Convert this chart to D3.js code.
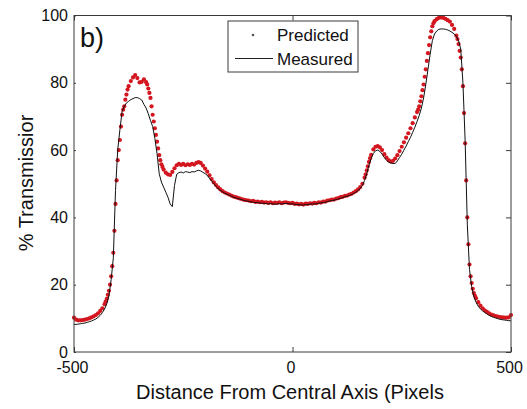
<!DOCTYPE html>
<html>
<head>
<meta charset="utf-8">
<script src="https://cdn.jsdelivr.net/npm/d3@7"></script>
<style>
  body { margin: 0; background: #fff; }
  svg { display: block; }
  text { font-family: "Liberation Sans", Arial, Helvetica, sans-serif; fill: #111; }
</style>
</head>
<body>
<svg id="chart" width="527" height="409"></svg>
<script>
// Sample positions along the profile (pixels from the central axis)
const positions = d3.range(-500, 501, 5);

// Measured transmission (%) at each position
const measured = [
  8.2, 8.2, 8.3, 8.4, 8.5, 8.6, 8.8, 9.0, 9.2, 9.5,
  9.8, 10.3, 10.9, 11.7, 12.8, 14.3, 16.8, 21.5, 28, 48,
  60, 66, 71.5, 73, 74, 74.5, 75, 75.3, 75.6, 75.6,
  75.3, 74.9, 73.6, 72.5, 70.8, 68.8, 67, 63.5, 59, 53,
  50.5, 49, 47.5, 46, 44, 43.2, 49.5, 52.8, 53.3, 53.5,
  53.2, 53.6, 53.5, 53.3, 53.6, 53.5, 53.8, 54, 53.8, 53.4,
  53, 52.5, 51.6, 50.8, 50, 49.2, 48.5, 48, 47.6, 47.2,
  46.9, 46.6, 46.3, 46, 45.8, 45.6, 45.4, 45.2, 45, 44.9,
  44.8, 44.6, 44.5, 44.4, 44.4, 44.3, 44.2, 44.2, 44.1, 44.0,
  44.1, 44.0, 43.9, 44.0, 44.1, 44.0, 44.1, 44.2, 44.1, 44.0,
  44.0, 43.9, 43.8, 43.8, 43.7, 43.7, 43.8, 43.8, 43.9, 44.0,
  44.0, 44.1, 44.2, 44.3, 44.4, 44.5, 44.7, 44.9, 45.0, 45.1,
  45.3, 45.5, 45.7, 45.9, 46.1, 46.3, 46.5, 46.8, 47.1, 47.5,
  48, 48.6, 49.5, 51, 53, 55.5, 57.5, 59, 59.8, 60,
  59.6, 58.8, 57.8, 57, 56.4, 56.2, 56, 56, 56.8, 57.8,
  58.8, 60, 61.2, 62.5, 63.8, 65.3, 66.8, 68.5, 70.3, 72.5,
  75.5, 79.5, 84, 88.5, 92.5, 94.5, 95.4, 95.9, 96, 96,
  95.9, 95.7, 95.4, 95, 94.5, 93.8, 92.5, 90, 80, 63,
  38, 24.5, 19.4, 16.5, 14.8, 13.6, 12.8, 12.2, 11.7, 11.3,
  10.9, 10.6, 10.3, 10.1, 9.9, 9.7, 9.6, 9.5, 9.4, 9.3,
  9.3
];

// Predicted transmission (%) at each position
const predicted = [
  10.2, 9.6, 9.4, 9.4, 9.5, 9.6, 9.8, 10.0, 10.3, 10.6,
  11.0, 11.5, 12.2, 13.0, 14.2, 15.8, 18.2, 22.5, 29.5, 44,
  57, 63, 70.5, 73, 76.5, 79, 80.5, 81.6, 82.3, 81.4,
  80.1, 80.3, 81, 80.2, 78.3, 75.5, 70.5, 66.5, 62.5, 58.5,
  55.8, 54.2, 53.3, 52.8, 52.6, 53.5, 54.6, 55.5, 55.9, 55.6,
  55.9, 55.5, 55.8, 55.6, 55.9, 55.7, 56.2, 56.4, 56.2, 55.4,
  54.5, 53.6, 52.5, 51.4, 50.4, 49.6, 48.9, 48.3, 47.8, 47.4,
  47.1, 46.8, 46.5, 46.2, 46.0, 45.8, 45.6, 45.4, 45.2, 45.1,
  45.0, 44.8, 44.9, 44.6, 44.7, 44.5, 44.6, 44.4, 44.5, 44.3,
  44.5, 44.2, 44.4, 44.3, 44.5, 44.2, 44.4, 44.5, 44.3, 44.2,
  44.3, 44.0, 44.1, 43.9, 44.0, 43.8, 44.1, 44.0, 44.2, 44.1,
  44.3, 44.2, 44.5, 44.4, 44.7, 44.7, 45.0, 45.1, 45.3, 45.3,
  45.6, 45.7, 46.0, 46.1, 46.4, 46.5, 46.8, 47.0, 47.4, 47.8,
  48.3, 49.0, 50, 51.8, 54, 56.5, 58.6, 60.2, 61, 61.2,
  60.8, 60, 58.8, 57.8, 57, 56.6, 56.8, 57.5, 58.5, 59.7,
  61, 62.3, 63.7, 65, 66.5, 68, 69.7, 71.3, 73, 76,
  79.5, 84, 88.8, 93.5, 96.8, 98.3, 98.9, 99.3, 99.4, 99.3,
  99.0, 98.6, 98.2, 97.2, 96, 94, 91.5, 87.5, 79, 62,
  40, 26, 20.5, 17.5, 16, 14.8, 13.8, 13.0, 12.4, 11.9,
  11.5, 11.1, 10.9, 10.7, 10.5, 10.4, 10.3, 10.2, 10.2, 10.3,
  11
];

// Extra predicted samples on the steep flanks (half-step positions)
const flankPositions = [
  -427.5, -422.5, -417.5, -412.5, -407.5, -402.5, -397.5, -392.5, -387.5, -382.5, -377.5,
  -332.5, -327.5, -322.5, -317.5, -312.5, -307.5, -302.5, -297.5,
  167.5, 172.5, 177.5,
  287.5, 292.5, 297.5, 302.5, 307.5, 312.5, 317.5, 322.5,
  377.5, 382.5, 387.5, 392.5, 397.5, 402.5, 407.5, 412.5, 417.5
];
const flankPredicted = [
  15.0, 17.0, 20.0, 25.5, 36, 51, 60, 67, 72, 75, 78,
  79.5, 77, 73, 68.5, 64.5, 60.5, 57, 55,
  52.8, 55.2, 57.6,
  72, 74.5, 77.8, 81.8, 86.5, 91.2, 95.3, 97.7,
  93, 89.5, 84, 71, 51, 32, 22.5, 18.8, 16.7
];

const xTicks = [-500, 0, 500];
const yTicks = [0, 20, 40, 60, 80, 100];
const seriesNames = ["Predicted", "Measured"];
const panelLabel = "b)";
const xTitle = "Distance From Central Axis (Pixels";
const yTitle = "% Transmissior";

const svg = d3.select("#chart");
const plot = { left: 74, right: 511, top: 15.5, bottom: 352 };

const x = d3.scaleLinear().domain([-500, 500]).range([plot.left, plot.right]);
const y = d3.scaleLinear().domain([0, 100]).range([plot.bottom, plot.top]);

const axisColor = "#3a3a3a";

// Predicted profile: dense red markers
const pts = positions.map((p, i) => ({ p, v: predicted[i] }))
  .concat(flankPositions.map((p, i) => ({ p, v: flankPredicted[i] })));
svg.append("g")
  .selectAll("circle")
  .data(pts)
  .join("circle")
  .attr("cx", d => x(d.p))
  .attr("cy", d => y(d.v))
  .attr("r", 2.1)
  .attr("fill", "#d3161f");

// Measured profile: thin black line
const line = d3.line()
  .x((d, i) => x(positions[i]))
  .y(d => y(d));
svg.append("path")
  .datum(measured)
  .attr("d", line)
  .attr("fill", "none")
  .attr("stroke", "#111")
  .attr("stroke-width", 1);

// Frame
svg.append("rect")
  .attr("x", plot.left).attr("y", plot.top)
  .attr("width", plot.right - plot.left)
  .attr("height", plot.bottom - plot.top)
  .attr("fill", "none")
  .attr("stroke", axisColor)
  .attr("stroke-width", 1);

// Left axis with labels
const gLeft = svg.append("g")
  .attr("transform", `translate(${plot.left},0)`)
  .call(d3.axisLeft(y).tickValues(yTicks).tickSize(4).tickSizeOuter(0).tickPadding(2));
gLeft.select(".domain").remove();
gLeft.selectAll(".tick line").attr("x2", 2).attr("stroke", axisColor);
gLeft.selectAll(".tick text").style("font-size", "16px").attr("fill", "#111");

// Right axis: inward ticks only
const gRight = svg.append("g")
  .attr("transform", `translate(${plot.right},0)`)
  .call(d3.axisRight(y).tickValues(yTicks).tickSize(-5).tickSizeOuter(0).tickFormat(""));
gRight.select(".domain").remove();
gRight.selectAll(".tick line").attr("stroke", axisColor);

// Bottom axis with labels, inward ticks
const gBottom = svg.append("g")
  .attr("transform", `translate(0,${plot.bottom})`)
  .call(d3.axisBottom(x).tickValues(xTicks).tickSize(-5).tickSizeOuter(0).tickPadding(10).tickFormat(d => String(d)));
gBottom.select(".domain").remove();
gBottom.selectAll(".tick line").attr("stroke", axisColor);
gBottom.selectAll(".tick text").style("font-size", "16px").attr("fill", "#111").attr("dx", -2);

// Top axis: inward ticks only
const gTop = svg.append("g")
  .attr("transform", `translate(0,${plot.top})`)
  .call(d3.axisTop(x).tickValues(xTicks).tickSize(-5).tickSizeOuter(0).tickFormat(""));
gTop.select(".domain").remove();
gTop.selectAll(".tick line").attr("stroke", axisColor);

// Panel label
svg.append("text")
  .attr("x", 80).attr("y", 47)
  .style("font-size", "27px")
  .text(panelLabel);

// Axis titles
svg.append("text")
  .attr("x", 290).attr("y", 399)
  .attr("text-anchor", "middle")
  .style("font-size", "20px")
  .text(xTitle);

svg.append("text")
  .attr("transform", "translate(33,183) rotate(-90)")
  .attr("text-anchor", "middle")
  .style("font-size", "20px")
  .text(yTitle);

// Legend
const lg = svg.append("g");
lg.append("rect")
  .attr("x", 228).attr("y", 21).attr("width", 130).attr("height", 51)
  .attr("fill", "#fff").attr("stroke", axisColor).attr("stroke-width", 1);
lg.append("circle")
  .attr("cx", 253).attr("cy", 35).attr("r", 1.3).attr("fill", "#555");
lg.append("line")
  .attr("x1", 235).attr("x2", 273).attr("y1", 58.5).attr("y2", 58.5)
  .attr("stroke", "#222").attr("stroke-width", 1);
lg.selectAll("text.item")
  .data(seriesNames)
  .join("text")
  .attr("class", "item")
  .attr("x", 277)
  .attr("y", (d, i) => 41 + i * 23.5)
  .style("font-size", "17px")
  .text(d => d);
</script>
</body>
</html>
